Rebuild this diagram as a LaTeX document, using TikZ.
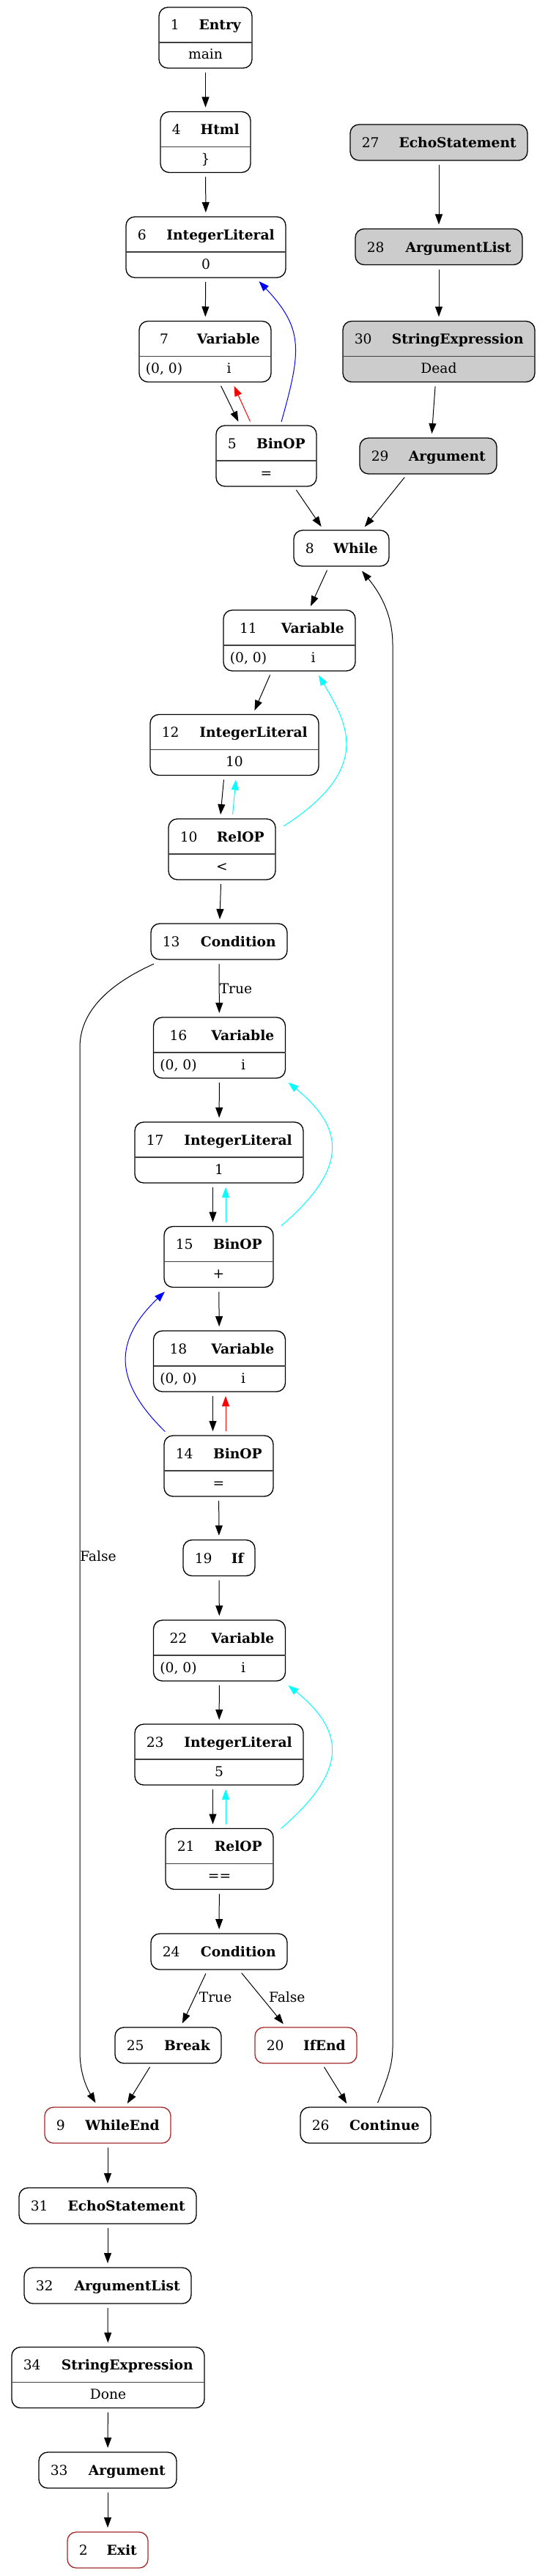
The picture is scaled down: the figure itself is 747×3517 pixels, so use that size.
\documentclass[tikz,border=0pt]{standalone}
\usepackage{fontspec}
\setmainfont{DejaVu Serif}
\usetikzlibrary{calc,arrows.meta}
\definecolor{deadgray}{HTML}{CCCCCC}
\definecolor{endred}{HTML}{A52A2A}
\definecolor{cyanedge}{HTML}{00FFFF}
\definecolor{blueedge}{HTML}{0000FF}
\definecolor{rededge}{HTML}{FF0000}
\tikzset{
  box/.style={draw=black, line width=1bp, rounded corners=9bp, inner sep=0pt, outer sep=0pt, fill=white},
  dead/.style={fill=deadgray},
  endn/.style={draw=endred},
  divline/.style={draw=black!75, line width=0.9bp},
  txt/.style={inner sep=0pt, font=\fontsize{14bp}{16bp}\selectfont},
  ttl/.style={inner sep=0pt, font=\fontsize{14bp}{16bp}\selectfont\bfseries},
  arr/.style={draw, line width=0.75bp, -{Triangle[length=10.5bp,width=7.5bp]}, shorten <=4.5bp, shorten >=4.5bp},
  arrc/.style={draw, line width=0.75bp, -{Triangle[length=10.5bp,width=7.5bp]}},
  lbl/.style={txt, anchor=west},
}
% one-row node: name, style, cx, cy, width, number, title
\newcommand\gvOne[7]{%
  \node[box,#2,minimum width=#5*0.75bp,minimum height=49*0.75bp] (#1) at (#3,-#4) {};
  \node[txt,anchor=base west] (#1num) at ($(#1.west)+(15.5,-7)$) {#6};
  \node[ttl,anchor=base east] (#1ttl) at ($(#1.east)+(-15,-7)$) {#7};
}
% two-row node: name, style, cx, cy, width, number, title, value
\newcommand\gvTwo[8]{%
  \node[box,#2,minimum width=#5*0.75bp,minimum height=83*0.75bp] (#1) at (#3,-#4) {};
  \node[txt,anchor=base west] (#1num) at ($(#1.north west)+(15.5,-31)$) {#6};
  \node[ttl,anchor=base east] (#1ttl) at ($(#1.north east)+(-15,-31)$) {#7};
  \draw[divline] ($(#1.north west)+(0,-48)$) -- ($(#1.north east)+(0,-48)$);
  \node[txt,anchor=base] (#1val) at ($(#1.north)+(0,-71)$) {#8};
}
% variable node: name, cx, cy, number
\newcommand\gvVar[4]{%
  \node[box,minimum width=180*0.75bp,minimum height=83*0.75bp] (#1) at (#2,-#3) {};
  \node[txt,anchor=base] (#1num) at ($(#1.north west)+(34,-31)$) {#4};
  \node[ttl,anchor=base east] (#1ttl) at ($(#1.north east)+(-15,-31)$) {Variable};
  \draw[divline] ($(#1.north west)+(0,-48)$) -- ($(#1.north east)+(0,-48)$);
  \node[txt,anchor=base] (#1pos) at ($(#1.north west)+(34,-71)$) {(0, 0)};
  \node[txt,anchor=base] (#1val) at ($(#1.north east)+(-57.5,-71)$) {i};
}
\begin{document}
\begin{tikzpicture}[x=0.75bp,y=0.75bp]
\fill[white] (0,0) rectangle (747,-3517);
\useasboundingbox (0,0) rectangle (747,-3517);

% ---------- nodes ----------
\gvTwo{n1}{}{280.5}{51.5}{127}{1}{Entry}{main}
\gvTwo{n4}{}{280.5}{194}{123}{4}{Html}{\}}
\gvTwo{n6}{}{281}{337.5}{218}{6}{IntegerLiteral}{0}
\gvVar{n7}{280}{480}{7}
\gvTwo{n5}{}{363.5}{622.5}{137}{5}{BinOP}{=}
\gvOne{n27}{dead}{599}{194.5}{242}{27}{EchoStatement}
\gvOne{n28}{dead}{599}{337}{228}{28}{ArgumentList}
\gvTwo{n30}{dead}{599}{480}{262}{30}{StringExpression}{Dead}
\gvOne{n29}{dead}{584.5}{622.5}{187}{29}{Argument}
\gvOne{n8}{}{466}{748.5}{130}{8}{While}
\gvVar{n11}{395}{874.5}{11}
\gvTwo{n12}{}{320}{1017}{230}{12}{IntegerLiteral}{10}
\gvTwo{n10}{}{303}{1159.5}{146}{10}{RelOP}{<}
\gvOne{n13}{}{299}{1285.5}{186}{13}{Condition}
\gvVar{n16}{299.5}{1430.5}{16}
\gvTwo{n17}{}{299}{1573.5}{230}{17}{IntegerLiteral}{1}
\gvTwo{n15}{}{298.5}{1716}{149}{15}{BinOP}{+}
\gvVar{n18}{299.5}{1858.5}{18}
\gvTwo{n14}{}{298.5}{2001.5}{149}{14}{BinOP}{=}
\gvOne{n19}{}{299}{2127}{98}{19}{If}
\gvVar{n22}{299.5}{2253.5}{22}
\gvTwo{n23}{}{299}{2395.5}{230}{23}{IntegerLiteral}{5}
\gvTwo{n21}{}{299.5}{2538}{147}{21}{RelOP}{==}
\gvOne{n24}{}{299}{2664.5}{186}{24}{Condition}
\gvOne{n25}{}{229.5}{2792.5}{145}{25}{Break}
\gvOne{n20}{endn}{417.5}{2792.5}{139}{20}{IfEnd}
\gvOne{n9}{endn}{147}{2901.5}{172}{9}{WhileEnd}
\gvOne{n26}{}{499}{2901.5}{178}{26}{Continue}
\gvOne{n31}{}{147}{3011.5}{242}{31}{EchoStatement}
\gvOne{n32}{}{147}{3120.5}{228}{32}{ArgumentList}
\gvTwo{n34}{}{147.5}{3246}{263}{34}{StringExpression}{Done}
\gvOne{n33}{}{147}{3372.5}{188}{33}{Argument}
\gvOne{n2}{endn}{147}{3481.5}{110}{2}{Exit}

% ---------- edge labels ----------
\node[lbl] (lt1) at (299.5,-1349.5) {True};
\node[lbl] (lf1) at (109,-2125) {False};
\node[lbl] (lt2) at (271.6,-2727) {True};
\node[lbl] (lf2) at (366.8,-2727) {False};

% ---------- edges ----------
\draw[arr] (n1) -- (n4);
\draw[arr] (n4) -- (n6);
\draw[arr] (n6) -- (n7);
\draw[arr] ($(n7.south)+(19,0)$) -- ($(n5.north)+(-35.5,0)$);
\draw[arr,rededge] ($(n5.north)+(-19.5,0)$) -- ($(n7.south)+(37,0)$);
\draw[arrc,blueedge] ($(n5.north)+(20.5,5)$) .. controls ($(n5.north)+(47.8,102)$) and ($(n6.south)+(133.9,-70)$) .. ($(n6.south)+(72.5,-5)$);

\draw[arr] (n27) -- (n28);
\draw[arr] (n28) -- (n30);
\draw[arr] ($(n30.south)+(-4.5,0)$) -- ($(n29.north)+(4.5,0)$);

\draw[arr] ($(n5.south)+(37.5,0)$) -- ($(n8.north)+(-24,0)$);
\draw[arr] ($(n29.south)+(-28.5,0)$) -- ($(n8.north)+(28,0)$);
\draw[arr] ($(n8.south)+(-17,0)$) -- ($(n11.north)+(26.5,0)$);
\draw[arr] ($(n11.south)+(-24,0)$) -- ($(n12.north)+(25,0)$);
\draw[arr] ($(n12.south)+(-14,0)$) -- ($(n10.north)+(-2.5,0)$);
\draw[arr,cyanedge] ($(n10.north)+(14,0)$) -- ($(n12.south)+(2.5,0)$);
\draw[arrc,cyanedge] ($(n10.north east)+(11,-10)$) .. controls ($(n10.north east)+(134,69)$) and ($(n11.south)+(79,-72)$) .. ($(n11.south)+(40,-6)$);
\draw[arr] (n10) -- (n13);

\draw[arr] (n13) -- (n16);
\draw[arrc] ($(n13.south west)+(4,-6)$) .. controls (150,-1343) and (109,-1380) .. (109,-1430) -- (109,-2801) .. controls (109,-2830) and (118,-2850) .. ($(n9.north)+(-16.5,6)$);

\draw[arr] (n16) -- (n17);
\draw[arr] ($(n17.south)+(-8.5,0)$) -- ($(n15.north)+(-8,0)$);
\draw[arr,cyanedge] ($(n15.north)+(9.5,0)$) -- ($(n17.south)+(9,0)$);
\draw[arrc,cyanedge] ($(n15.north east)+(11,1)$) .. controls ($(n15.north east)+(99.3,76.5)$) and ($(n16.south)+(174.3,-70.9)$) .. ($(n16.south)+(94,-6)$);
\draw[arr] (n15) -- (n18);
\draw[arr] ($(n18.south)+(-9,0)$) -- ($(n14.north)+(-8,0)$);
\draw[arr,rededge] ($(n14.north)+(9.5,0)$) -- ($(n18.south)+(8.5,0)$);
\draw[arrc,blueedge] ($(n14.north west)+(1.3,5.5)$) .. controls ($(n14.north west)+(-68.6,74)$) and ($(n15.south west)+(-69.6,-73.5)$) .. ($(n15.south west)+(0.9,-6)$);

\draw[arr] (n14) -- (n19);
\draw[arr] (n19) -- (n22);
\draw[arr] (n22) -- (n23);
\draw[arr] ($(n23.south)+(-8.5,0)$) -- ($(n21.north)+(-9,0)$);
\draw[arr,cyanedge] ($(n21.north)+(8.5,0)$) -- ($(n23.south)+(9,0)$);
\draw[arrc,cyanedge] ($(n21.north east)+(10.5,0)$) .. controls ($(n21.north east)+(99.3,76.5)$) and ($(n22.south)+(174.3,-70.9)$) .. ($(n22.south)+(94,-6)$);
\draw[arr] (n21) -- (n24);

\draw[arr] ($(n24.south)+(-15.5,0)$) -- ($(n25.north)+(16.8,0)$);
\draw[arr] ($(n24.south)+(26.9,0)$) -- ($(n20.north)+(-26.8,0)$);
\draw[arr] ($(n25.south)+(-21.8,0)$) -- ($(n9.north)+(23.6,0)$);
\draw[arr] ($(n20.south)+(21.8,0)$) -- ($(n26.north)+(-22.6,0)$);
\draw[arrc] ($(n26.north)+(16.5,6)$) .. controls (528,-2840) and (536,-2820) .. (536,-2795) -- (536,-880) .. controls (536,-835) and (515,-805) .. ($(n8.south)+(28,-6.5)$);

\draw[arr] (n9) -- (n31);
\draw[arr] (n31) -- (n32);
\draw[arr] (n32) -- (n34);
\draw[arr] (n34) -- (n33);
\draw[arr] (n33) -- (n2);
\end{tikzpicture}
\end{document}
